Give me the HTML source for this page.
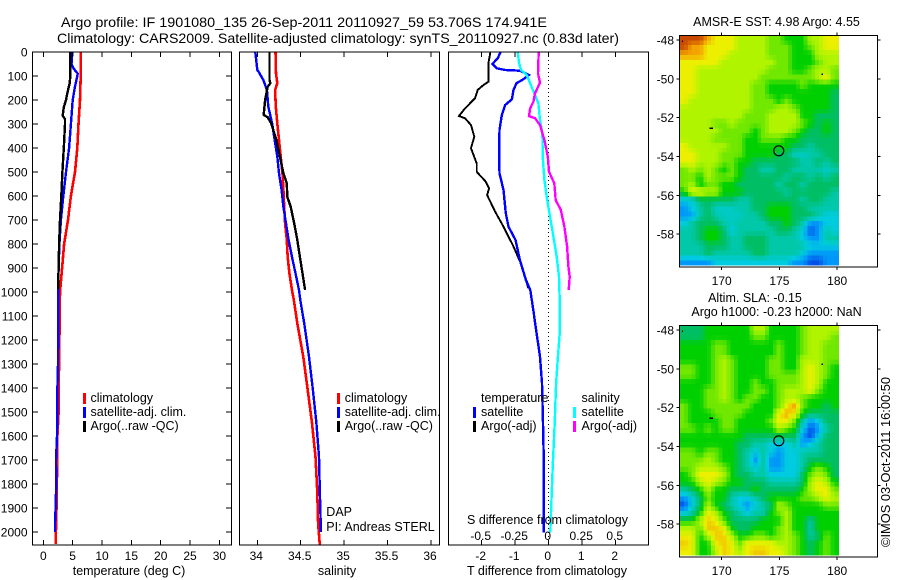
<!DOCTYPE html>
<html>
<head>
<meta charset="utf-8">
<title>Argo profile</title>
<style>
html,body{margin:0;padding:0;background:#fff;width:900px;height:580px;overflow:hidden}
svg{display:block}
text{font-family:"Liberation Sans",sans-serif;font-size:12.5px;fill:#000}
text.num{font-size:12px}
.crisp{shape-rendering:crispEdges}
</style>
</head>
<body>
<svg id="figure" width="900" height="580" viewBox="0 0 900 580" xmlns="http://www.w3.org/2000/svg">
<text x="61" y="27" style="font-size:14px" textLength="486" lengthAdjust="spacingAndGlyphs">Argo profile: IF 1901080_135 26-Sep-2011 20110927_59 53.706S 174.941E</text>
<text x="57" y="43" style="font-size:14px" textLength="562" lengthAdjust="spacingAndGlyphs">Climatology: CARS2009. Satellite-adjusted climatology: synTS_20110927.nc (0.83d later)</text>
<text x="776.5" y="26" text-anchor="middle">AMSR-E SST: 4.98 Argo: 4.55</text>
<text x="755" y="302" text-anchor="middle">Altim. SLA: -0.15</text>
<text x="776.5" y="316" text-anchor="middle">Argo h1000: -0.23 h2000: NaN</text>
<text transform="translate(890,547) rotate(-90)" textLength="170" lengthAdjust="spacingAndGlyphs">©IMOS 03-Oct-2011 16:00:50</text>
</svg>
<script>
// ---- depth ticks ----
var depthTicks = [0,100,200,300,400,500,600,700,800,900,1000,1100,1200,1300,1400,1500,1600,1700,1800,1900,2000];
var tempTicks = [0,5,10,15,20,25,30];
var salTicks = [34,34.5,35,35.5,36];
var salTickLabels = ["34","34.5","35","35.5","36"];
var tDiffTicks = [-2,-1,0,1,2];
var sDiffTicks = [-0.5,-0.25,0,0.25,0.5];
var sDiffTickLabels = ["-0.5","-0.25","0","0.25","0.5"];
var lonTicks = [170,175,180];
var latTicks = [48,50,52,54,56,58];

// ---- temperature panel ----
var tempClimDepth = [0,100,200,300,400,500,600,700,800,900,1000,1100,1200,1300,1400,1500,1600,1700,1800,1900,2000,2050];
var tempClim = [6.37,6.37,6.25,6.0,5.8,5.4,4.7,4.2,3.55,3.2,2.85,2.8,2.75,2.7,2.6,2.6,2.4,2.4,2.3,2.25,2.15,2.15];
var tempSatDepth = [0,50,70,90,100,150,200,300,400,500,600,700,800,900,1000,1300,1400,1600,1700,1800,1900,1960,2000];
var tempSat = [4.95,4.8,5.2,5.86,5.8,5.35,5.0,4.7,4.4,3.87,3.4,3.0,2.75,2.6,2.55,2.5,2.4,2.33,2.17,2.2,2.1,2.0,2.0];
var tempArgoDepth = [0,100,130,170,200,230,265,280,300,400,500,600,700,800,900,990];
var tempArgo = [4.6,4.6,4.5,4.1,3.87,3.5,3.3,3.7,3.7,3.5,3.25,3.07,2.85,2.7,2.6,2.5];

// ---- salinity panel ----
var salClimDepth = [0,89,130,158,228,297,367,436,506,575,645,714,783,854,922,992,1033,1130,1270,1408,1546,1687,1825,1963,2054];
var salClim = [34.21,34.215,34.23,34.205,34.213,34.23,34.25,34.27,34.29,34.30,34.31,34.32,34.34,34.35,34.37,34.40,34.42,34.46,34.53,34.58,34.63,34.67,34.69,34.70,34.72];
var salSatDepth = [0,75,85,117,158,228,297,367,436,506,575,645,714,783,854,922,992,1033,1130,1270,1408,1546,1687,1825,1963,2000];
var salSat = [33.977,34.0,34.02,34.07,34.11,34.127,34.17,34.2,34.23,34.25,34.28,34.30,34.33,34.36,34.40,34.44,34.48,34.495,34.54,34.595,34.64,34.68,34.71,34.72,34.73,34.73];
var salArgoDepth = [0,117,130,145,200,262,272,297,367,436,506,547,603,645,714,783,854,922,992];
var salArgo = [34.14,34.14,34.15,34.12,34.09,34.074,34.12,34.16,34.22,34.26,34.30,34.34,34.345,34.385,34.425,34.46,34.49,34.52,34.55];

// ---- difference panel ----
var tDiffSatDepth = [0,26,50,68,75,78,96,114,130,158,197,221,263,325,422,505,575,672,728,783,867,950,992,1075,1172,1269,1380,1547,1686,2002];
var tDiffSat = [-1.44,-1.52,-1.68,-1.55,-1.30,-0.86,-0.59,-0.76,-0.96,-1.05,-1.10,-1.30,-1.40,-1.47,-1.48,-1.47,-1.35,-1.28,-1.20,-0.99,-0.86,-0.68,-0.55,-0.46,-0.36,-0.26,-0.20,-0.17,-0.15,-0.15];
var tDiffArgoDepth = [0,47,124,138,158,193,235,267,276,304,353,401,464,499,540,568,596,665,728,811,894,985];
var tDiffArgo = [-1.74,-1.80,-1.80,-1.95,-2.12,-2.20,-2.50,-2.68,-2.50,-2.32,-2.22,-2.32,-2.15,-2.15,-1.88,-1.78,-1.84,-1.60,-1.35,-1.05,-0.79,-0.61];
var sDiffSatDepth = [0,47,75,96,130,179,214,283,339,436,533,603,686,769,853,936,1033,1172,1283,1380,1547,1728,1853,2002];
var sDiffSat = [-0.231,-0.221,-0.206,-0.164,-0.139,-0.102,-0.077,-0.065,-0.047,-0.045,-0.032,-0.015,0.010,0.035,0.060,0.077,0.082,0.082,0.067,0.055,0.045,0.030,0.022,0.012];
var sDiffArgoDepth = [0,89,128,172,207,235,267,276,304,367,436,499,547,617,658,728,811,894,936,992];
var sDiffArgo = [-0.075,-0.080,-0.065,-0.102,-0.114,-0.139,-0.147,-0.102,-0.065,-0.032,-0.007,0.002,0.042,0.052,0.090,0.117,0.137,0.147,0.157,0.149];

// ---- map heat values (colour scale 0 = blue ... 10 = red-brown) ----
var sstGrid = [
[10,10,10,9,8,8,8,7,7,7,7,6,6,5,5,5,7,7,8,8],
[10,9,9,8,8,8,8,7,7,7,7,6,6,6,5,5,6,7,8,8],
[9,9,9,8,8,8,7,7,7,7,7,6,6,6,5,5,5,7,7,7],
[8,8,8,8,8,7,7,7,7,7,7,7,6,6,5,5,5,6,7,7],
[8,8,7,7,7,7,7,7,7,7,7,6,6,6,5,5,6,7,7,6],
[8,8,7,7,7,7,7,7,7,7,6,6,6,6,6,6,6,7,8,6],
[8,8,7,7,7,7,7,7,7,6,6,5,5,5,5,6,5,5,5,5],
[8,8,7,7,7,7,7,7,7,6,6,5,5,5,5,5,5,5,5,4],
[8,7,7,7,7,7,7,7,7,6,6,6,5,6,5,5,5,5,5,4],
[7,7,7,7,7,7,7,7,7,6,6,6,7,7,6,5,5,5,5,4],
[7,7,7,7,7,7,7,7,6,6,6,7,7,7,7,5,5,4,4,4],
[7,7,7,7,6,6,7,6,6,6,6,7,7,7,7,6,5,4,5,4],
[7,7,7,7,7,6,6,6,6,5,6,7,7,7,6,5,4,4,5,4],
[7,7,7,7,6,6,6,6,5,5,6,6,6,5,5,4,4,4,4,4],
[8,7,7,7,7,7,6,6,5,5,5,5,5,5,4,4,3,4,4,4],
[8,8,7,7,7,6,6,6,5,5,5,5,4,4,2.5,2.5,3,3,4,4],
[8,8,7,7,7,6,6,5,5,4,4,4,4,4,4,3,3,4,3,4],
[6,7,6,7,6,5,6,5,4,4,3,3,4,4,3,3,3,3,2.5,3],
[6,6,5,7,6,6,6,5,4,4,4,4,4,3,4,4,3,4,3,4],
[6,7,5,6,6,5,5,4,4,4,4,4,3,4,4,3,4,4,4,4],
[5,8,8,7,7,5,5,5,4,4,4,4,4,3,4,4,4,4,4,3],
[2,2,4,4,4,4,4,3,3,4,4,4,4,4,4,3,4,4,3,3],
[1,2,3,4,2.5,2.5,2.5,3,3,4,4,5,5,5,4,4,3,3,3,3],
[1,1,3,4,3,2.5,2.5,2.5,3,3,4,5,5,5,4,4,4,3,2,2],
[2,3,4,4,4,3,2.5,3,3,3,3,4,4,5,4,3,1,1,2,2],
[3,3,4,5,5,4,2,3,3,3,3,3,4,4,3,2,0,1,3,2],
[3,3,4,5,5,4,3,3,4,4,4,3,3,3,3,2,1,1,3,3],
[3,3,3,4,4,4,3,3,4,4,4,3,3,3,3,3,2,2,2,2],
[3,3,3,4,3,3,3,3,3,4,4,3,3,3,3,2,1,1,1,1],
[1,1,1,1,2,2,2,2,2,2,2,2,2,2,1,1,0,0,1,1]
];
var slaGrid = [
[4,4,4,5,5,5,5,5,5,7,7,5,5,5,5,6,7,7,7,7],
[4,4,4,5,5,5,5,5,5,6,6,5,5,5,5,6,7,7,7,6],
[5,5,5,5,6,6,5,5,5,5,5,5,6,5,5,6,7,7,6,6],
[5,5,5,5,6,6,5,5,5,5,5,5,6,5,5,6,7,7,6,6],
[5,5,5,5,6,7,6,5,5,5,5,6,6,5,5,7,7,7,6,6],
[6,6,5,5,6,7,6,5,5,5,5,6,6,5,5,7,8,7,6,5],
[6,6,5,5,6,7,6,5,5,5,5,6,6,6,6,7,8,7,6,5],
[5,5,5,5,6,7,6,5,5,6,5,5,6,6,6,7,8,7,5,5],
[5,5,5,6,6,7,6,5,5,6,6,5,6,7,7,7,8,6,5,5],
[5,5,5,6,6,7,6,5,6,6,5,5,6,7,7,6,5,5,5,5],
[6,5,5,6,6,6,6,6,6,5,5,5,6,8,9,6,5,5,4,5],
[6,5,5,5,6,6,6,6,5,5,5,5,8,9,8,5,4,4,4,4],
[6,5,5,5,5,6,6,5,5,5,5,6,8,8,6,3,1,2,4,4],
[6,6,5,6,5,6,6,5,5,5,5,5,7,6,5,2,0,1,3,4],
[5,5,5,5,5,5,5,5,4,4,4,4,4,4,4,1,0,2,4,4],
[5,5,5,5,5,5,5,4,4,3,3,2,2,2,3,1,2,3,4,4],
[6,6,5,6,6,5,5,4,3,2,3,2,1,2,2,3,3,3,4,4],
[6,6,6,7,6,5,5,4,3,1,3,1,1,2,2,3,4,4,4,4],
[6,6,7,7,7,6,5,4,3,2,3,1,1,2,2,3,5,6,5,4],
[5,6,8,8,8,7,5,4,4,3,3,2,2,2,2,4,6,7,6,4],
[5,5,7,8,7,6,5,5,4,4,4,3,3,3,3,4,7,8,7,5],
[3,4,5,7,5,5,4,4,4,5,4,4,4,4,4,5,7,8,8,6],
[1,2,4,6,5,5,3,2,2,3,4,5,5,5,5,6,6,7,8,7],
[0,2,4,7,5,4,3,2,1,2,3,4,7,6,5,5,5,5,6,6],
[2,3,5,8,7,5,4,3,2,3,3,5,6,7,5,5,5,5,5,5],
[5,5,7,8.5,8,6,4,4,4,4,5,5,5,7,5,5,3,5,5,5],
[7,7,6,8.5,8.5,8,5,4,4,5,5,5,6,7,5,5,3,5,5,5],
[8,8,5,7,8.5,8.5,7,5,5,6,6,5,6,7,6,5,3,4,6,5],
[8.5,8,5,5,8,8.5,8,6,8,8,8,8,7,7,6,5,4,5,6,5],
[8,8,5,5,7,8.5,8,7,8,8.5,8.5,8,8,7,6,5,4,5,6,5]
];
var colourStops = [[0,80,232],[0,152,248],[0,204,224],[0,200,168],[0,190,100],[0,208,0],[112,232,0],[176,244,0],[236,240,0],[244,164,0],[200,72,0]];
var mapLonStart = 166.4;
var mapLonEnd = 180.1;
var mapLatStart = 47.76;
var mapLatEnd = 59.6;
var argoLon = 174.941;
var argoLat = 53.706;

var NS = "http://www.w3.org/2000/svg";
var fig = document.getElementById("figure");
function el(tag, attrs, parent) {
  var e = document.createElementNS(NS, tag);
  for (var k in attrs) e.setAttribute(k, attrs[k]);
  (parent || fig).appendChild(e);
  return e;
}
function txt(str, x, y, anchor, parent) {
  var t = el("text", {x: x, y: y, "text-anchor": anchor || "start"}, parent);
  t.textContent = str;
  return t;
}
function yDepth(d) { return 52 + d * 0.24; }
function xTemp(v) { return 43.3 + v * 5.87; }
function xSal(v) { return 257.3 + (v - 34) * 86.85; }
function xTDiff(v) { return 548.7 + v * 33.5; }
function xSDiff(v) { return 548.7 + v * 134; }

function drawLine(depths, values, xf, colour, width, name) {
  var pts = [];
  for (var i = 0; i < depths.length; i++) pts.push(xf(values[i]).toFixed(1) + "," + yDepth(depths[i]).toFixed(1));
  var p = el("polyline", {points: pts.join(" "), fill: "none", stroke: colour, "stroke-width": width, "class": "crisp"});
  
  
}
function frame(x0, y0, x1, y1, name) {
  var r = el("rect", {x: x0, y: y0, width: x1 - x0, height: y1 - y0, fill: "none", stroke: "#000", "stroke-width": 1, "class": "crisp"});
  
  
}
function tick(x1, y1, x2, y2) {
  var t = el("line", {x1: x1, y1: y1, x2: x2, y2: y2, stroke: "#000", "stroke-width": 1, "class": "crisp"});
  
  
}
function label(str, x, y, anchor, name) {
  var t = txt(str, x, y, anchor);
  if (name.indexOf("tick-label") >= 0) t.setAttribute("class", "num");
  
  
}
function swatch(x, y, colour, name) {
  var s = el("rect", {x: x - 1, y: y - 5.5, width: 3, height: 11, fill: colour, "class": "crisp"});
  
  
}

var TOP = 52, BOT = 545;

// ---- panel 1 : temperature ----
drawLine(tempClimDepth, tempClim, xTemp, "#ff0000", 2.6, "temperature-climatology-line");
drawLine(tempSatDepth, tempSat, xTemp, "#0000ff", 2.4, "temperature-satellite-line");
drawLine(tempArgoDepth, tempArgo, xTemp, "#000000", 2.4, "temperature-argo-line");
frame(32.5, TOP, 231.5, BOT, "temperature-axes-frame");
depthTicks.forEach(function (d) {
  var y = yDepth(d);
  tick(32.5, y, 38, y);
  tick(231.5, y, 226, y);
  label(String(d), 27.5, y + 4.5, "end", "depth-tick-label");
});
tempTicks.forEach(function (v) {
  var x = xTemp(v);
  tick(x, TOP, x, TOP + 5);
  tick(x, BOT, x, BOT - 5);
  label(String(v), x, 560, "middle", "temperature-tick-label");
});
label("temperature (deg C)", 129, 575, "middle", "temperature-axis-title");
swatch(84, 398.7, "#ff0000", "legend-swatch-climatology");
swatch(84, 412.5, "#0000ff", "legend-swatch-satellite");
swatch(84, 426.5, "#000000", "legend-swatch-argo");
label("climatology", 90.5, 402, "start", "legend-entry-climatology");
label("satellite-adj. clim.", 90.5, 416, "start", "legend-entry-satellite");
label("Argo(..raw -QC)", 90.5, 430, "start", "legend-entry-argo");

// ---- panel 2 : salinity ----
drawLine(salClimDepth, salClim, xSal, "#ff0000", 2.6, "salinity-climatology-line");
drawLine(salSatDepth, salSat, xSal, "#0000ff", 2.4, "salinity-satellite-line");
drawLine(salArgoDepth, salArgo, xSal, "#000000", 2.4, "salinity-argo-line");
frame(239.5, TOP, 439.5, BOT, "salinity-axes-frame");
salTicks.forEach(function (v, i) {
  var x = xSal(v);
  tick(x, TOP, x, TOP + 5);
  tick(x, BOT, x, BOT - 5);
  label(salTickLabels[i], x - 1, 560, "middle", "salinity-tick-label");
});
label("salinity", 337, 575, "middle", "salinity-axis-title");
swatch(338, 398.7, "#ff0000", "legend-swatch-climatology");
swatch(338, 412.5, "#0000ff", "legend-swatch-satellite");
swatch(338, 426.5, "#000000", "legend-swatch-argo");
label("climatology", 344.7, 402, "start", "legend-entry-climatology");
label("satellite-adj. clim.", 344.7, 416, "start", "legend-entry-satellite");
label("Argo(..raw -QC)", 344.7, 430, "start", "legend-entry-argo");
label("DAP", 326.3, 516, "start", "data-centre-label");
label("PI: Andreas STERL", 326.3, 531, "start", "principal-investigator-label");

// ---- panel 3 : differences ----
var zero = el("line", {x1: xTDiff(0), y1: TOP, x2: xTDiff(0), y2: BOT, stroke: "#000", "stroke-width": 1, "stroke-dasharray": "1 3", "class": "crisp"});


drawLine(tDiffArgoDepth, tDiffArgo, xTDiff, "#000000", 1.9, "t-difference-argo-line");
drawLine(tDiffSatDepth, tDiffSat, xTDiff, "#0000ff", 2.4, "t-difference-satellite-line");
drawLine(sDiffSatDepth, sDiffSat, xSDiff, "#00ffff", 2.4, "s-difference-satellite-line");
drawLine(sDiffArgoDepth, sDiffArgo, xSDiff, "#ff00ff", 2.4, "s-difference-argo-line");
frame(448.5, TOP, 648.5, BOT, "difference-axes-frame");
tDiffTicks.forEach(function (v) {
  var x = xTDiff(v);
  tick(x, TOP, x, TOP + 5);
  tick(x, BOT, x, BOT - 5);
  label(String(v), x - 1, 560, "middle", "t-difference-tick-label");
});
sDiffTicks.forEach(function (v, i) {
  label(sDiffTickLabels[i], xSDiff(v) - 1, 540, "middle", "s-difference-tick-label");
});
label("S difference from climatology", 547.5, 524, "middle", "s-difference-axis-title");
label("T difference from climatology", 547, 575, "middle", "t-difference-axis-title");
label("temperature", 481, 402, "start", "legend-title-temperature");
label("satellite", 481, 416, "start", "legend-entry-t-satellite");
label("Argo(-adj)", 481, 430, "start", "legend-entry-t-argo");
swatch(474, 412.5, "#0000ff", "legend-swatch-t-satellite");
swatch(474, 426.5, "#000000", "legend-swatch-t-argo");
label("salinity", 581.5, 402, "start", "legend-title-salinity");
label("satellite", 581.5, 416, "start", "legend-entry-s-satellite");
label("Argo(-adj)", 581.5, 430, "start", "legend-entry-s-argo");
swatch(574, 412.5, "#00ffff", "legend-swatch-s-satellite");
swatch(574, 426.5, "#ff00ff", "legend-swatch-s-argo");

// ---- maps ----
function xLon(v) { return 721.7 + (v - 170) * 11.55; }
function colourFor(v) {
  var i = Math.max(0, Math.min(colourStops.length - 2, Math.floor(v)));
  var f = v - i, a = colourStops[i], b = colourStops[i + 1];
  return "rgb(" + Math.round(a[0] + (b[0] - a[0]) * f) + "," + Math.round(a[1] + (b[1] - a[1]) * f) + "," + Math.round(a[2] + (b[2] - a[2]) * f) + ")";
}
function sampleGrid(grid, lon, lat) {
  var rows = grid.length, cols = grid[0].length;
  var cf = (lon - mapLonStart) / (mapLonEnd - mapLonStart) * cols - 0.5;
  var rf = (lat - mapLatStart) / (mapLatEnd - mapLatStart) * rows - 0.5;
  cf = Math.max(0, Math.min(cols - 1.001, cf));
  rf = Math.max(0, Math.min(rows - 1.001, rf));
  var c = Math.floor(cf), r = Math.floor(rf), u = cf - c, w = rf - r;
  return grid[r][c] * (1 - u) * (1 - w) + grid[r][c + 1] * u * (1 - w) + grid[r + 1][c] * (1 - u) * w + grid[r + 1][c + 1] * u * w;
}
function drawMap(grid, topPx, namePrefix) {
  // latitude axis: 48 degS sits 4.7px below the top edge, 19.4 px per degree
  function yLat(v) { return topPx + 4.7 + (v - 48) * 19.4; }
  var fineCols = 41, fineRows = 47;
  var dLon = (mapLonEnd - mapLonStart) / fineCols;
  var dLat = (mapLatEnd - mapLatStart) / fineRows;
  for (var r = 0; r < fineRows; r++) {
    for (var c = 0; c < fineCols; c++) {
      var lon = mapLonStart + c * dLon, lat = mapLatStart + r * dLat;
      var x0 = xLon(lon), x1 = xLon(lon + dLon);
      var y0 = yLat(lat), y1 = yLat(lat + dLat);
      var val = sampleGrid(grid, lon + dLon / 2, lat + dLat / 2);
      var cell = el("rect", {x: x0.toFixed(2), y: y0.toFixed(2), width: (x1 - x0 + 0.5).toFixed(2), height: (y1 - y0 + 0.5).toFixed(2), fill: colourFor(val), "class": "crisp"});
      
      
    }
  }
  var bottom = topPx + 231.6;
  frame(679.5, topPx, 877.5, bottom, namePrefix + "-map-frame");
  lonTicks.forEach(function (v) {
    var x = xLon(v);
    tick(x, topPx, x, topPx - 3);
    tick(x, bottom, x, bottom + 3);
    label(String(v), x, bottom + 18, "middle", namePrefix + "-longitude-tick-label");
  });
  latTicks.forEach(function (v) {
    var y = yLat(v);
    tick(679.5, y, 676.5, y);
    tick(877.5, y, 880.5, y);
    label("-" + v, 674, y + 4.5, "end", namePrefix + "-latitude-tick-label");
  });
  // small land specks
  [[169.1, 52.55, 3.5, 1.5], [178.7, 49.75, 1.5, 1.5], [166.6, 48.05, 1, 1.5]].forEach(function (s) {
    var land = el("rect", {x: xLon(s[0]) - s[2] / 2, y: yLat(s[1]) - s[3] / 2, width: s[2], height: s[3], fill: "#000", "class": "crisp"});
    
    
  });
  var ring = el("circle", {cx: xLon(argoLon), cy: yLat(argoLat), r: 5, fill: "none", stroke: "#000", "stroke-width": 1.2});
  
  
}
drawMap(sstGrid, 35.4, "sst");
drawMap(slaGrid, 325.4, "sla");
</script>
</body>
</html>
